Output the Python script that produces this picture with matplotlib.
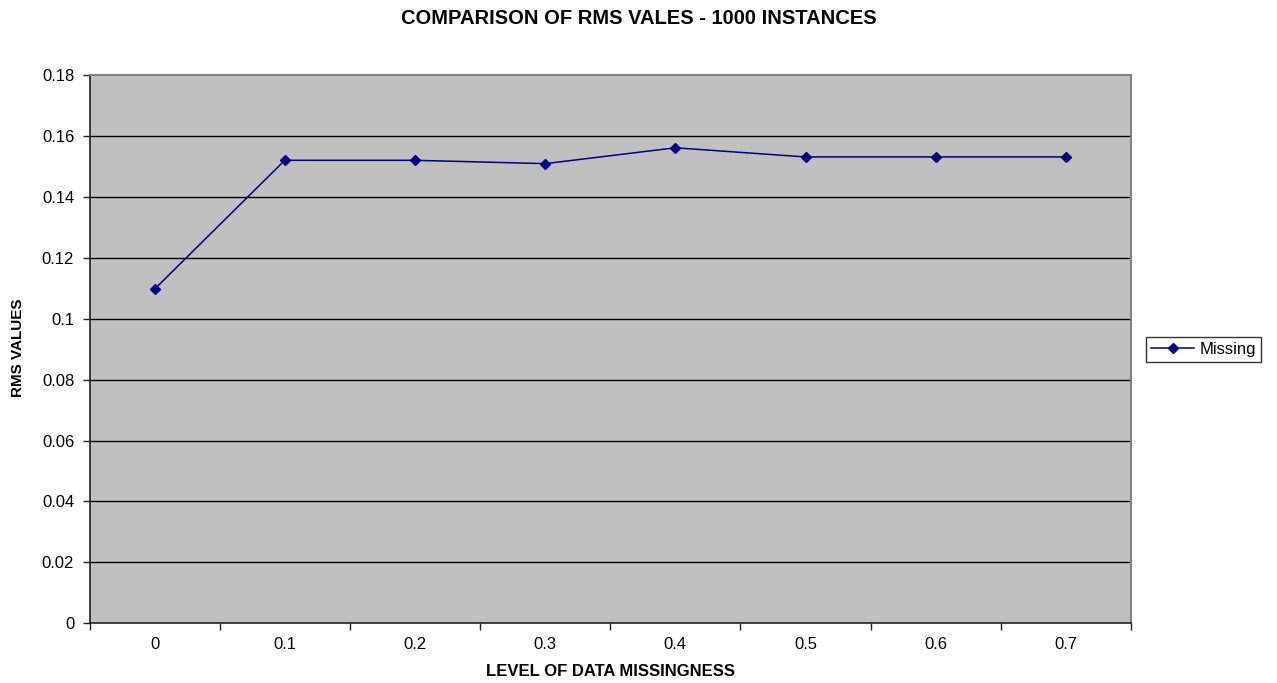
import matplotlib.pyplot as plt
from matplotlib.ticker import FixedLocator, FuncFormatter

plt.rcParams['font.family'] = ['Liberation Sans', 'DejaVu Sans']

# RMS values per level of data missingness (1000 instances)
levels = ['0', '0.1', '0.2', '0.3', '0.4', '0.5', '0.6', '0.7']
rms_missing = [0.1097, 0.152, 0.152, 0.1509, 0.1561, 0.1531, 0.1531, 0.1531]
y_ticks = [0, 0.02, 0.04, 0.06, 0.08, 0.10, 0.12, 0.14, 0.16, 0.18]

NAVY = '#000080'
PLOT_BG = '#C0C0C0'

fig = plt.figure(figsize=(12.77, 6.83), dpi=100)
fig.patch.set_facecolor('white')
ax = fig.add_axes([89.5 / 1277, 1 - 623.3 / 683, (1131 - 89.5) / 1277, (623.3 - 75) / 683])
ax.set_facecolor(PLOT_BG)

x = list(range(len(levels)))
ax.plot(x, rms_missing, '-', color=NAVY, linewidth=1.1, marker='D', markersize=5,
        markerfacecolor=NAVY, markeredgecolor=NAVY, label='Missing', zorder=4)

# category axis: labels centred, tick marks between categories
ax.set_xlim(-0.5, len(levels) - 0.5)
ax.set_xticks(x)
ax.set_xticklabels(levels, fontsize=12)
ax.xaxis.set_minor_locator(FixedLocator([i - 0.5 for i in range(len(levels) + 1)]))
ax.tick_params(axis='x', which='major', length=0, pad=10)
ax.tick_params(axis='x', which='minor', length=5, width=1, direction='out', color='#222222')

ax.set_ylim(0, 0.18)
ax.set_yticks(y_ticks)
ax.yaxis.set_major_formatter(FuncFormatter(lambda v, p: f'{v:g}'))
ax.tick_params(axis='y', length=5, width=1, direction='out', pad=6, labelsize=12, color='#222222')

# horizontal gridlines
for v in y_ticks[1:-1]:
    ax.axhline(v, color='black', linewidth=1, zorder=1)

for side in ['left', 'bottom']:
    ax.spines[side].set_color('#222222')
    ax.spines[side].set_linewidth(1.2)
for side in ['top', 'right']:
    ax.spines[side].set_color('#808080')
    ax.spines[side].set_linewidth(1.5)

fig.text(0.5, 1 - 19 / 683, 'COMPARISON OF RMS VALES - 1000 INSTANCES',
         ha='center', va='center', fontsize=14.5, fontweight='bold')
fig.text(610 / 1277, 1 - 671.5 / 683, 'LEVEL OF DATA MISSINGNESS',
         ha='center', va='center', fontsize=12, fontweight='bold')
fig.text(18 / 1277, 1 - 348 / 683, 'RMS VALUES', rotation=90,
         ha='center', va='center', fontsize=11, fontweight='bold')

leg = fig.legend(loc='center left', bbox_to_anchor=(1146 / 1277, 1 - 349.5 / 683),
                 fontsize=12, frameon=True, fancybox=False, handlelength=2.6,
                 handletextpad=0.3, borderpad=0.3, borderaxespad=0)
leg.get_frame().set_edgecolor('black')
leg.get_frame().set_linewidth(1)

plt.savefig('out.png', dpi=100)
